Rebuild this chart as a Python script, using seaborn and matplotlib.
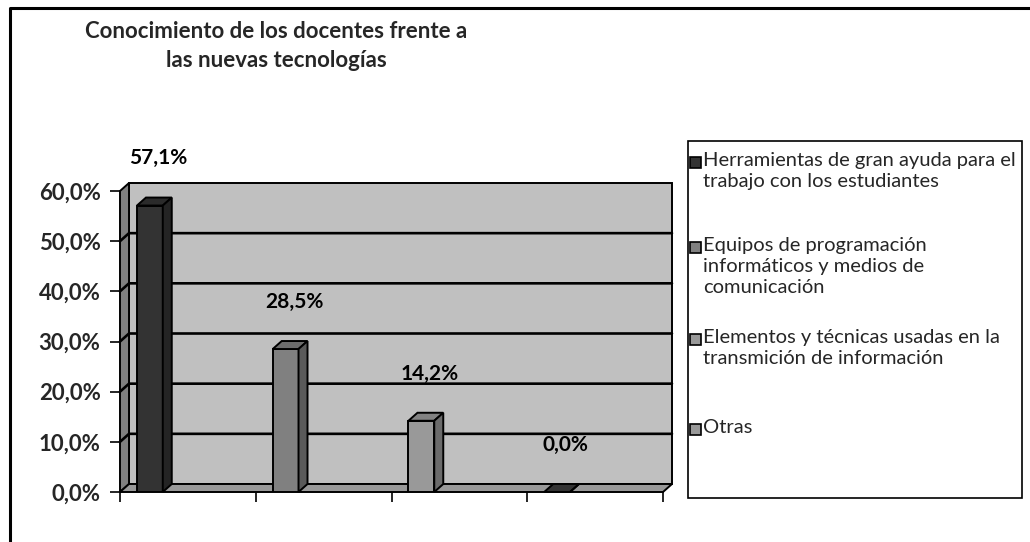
import matplotlib
matplotlib.use("Agg")
import matplotlib.pyplot as plt
from matplotlib.patches import Polygon, Rectangle
from matplotlib.lines import Line2D
from matplotlib.colors import to_rgb
import numpy as np
import pandas as pd
import seaborn as sns

# data
categories = [
    "Herramientas de gran ayuda para el\ntrabajo con los estudiantes",
    "Equipos de programación\ninformáticos y medios de\ncomunicación",
    "Elementos y técnicas usadas en la\ntransmición de información",
    "Otras",
]
values = [0.571, 0.285, 0.142, 0.0]
value_labels = ["57,1%", "28,5%", "14,2%", "0,0%"]
y_ticks = [0.0, 0.1, 0.2, 0.3, 0.4, 0.5, 0.6]
y_tick_labels = ["0,0%", "10,0%", "20,0%", "30,0%", "40,0%", "50,0%", "60,0%"]
title = "Conocimiento de los docentes frente a\nlas nuevas tecnologías"

bar_colors = ["#333333", "#808080", "#999999", "#999999"]

W, H = 1030, 542


def shade(c, f):
    r, g, b = to_rgb(c)
    return (r * f, g * f, b * f)


def fig_box(left, top, right, bottom):
    # pixel box -> figure fraction rect
    return [left / W, 1 - bottom / H, (right - left) / W, (bottom - top) / H]


sns.set_theme(style="white")
plt.rcParams["font.family"] = ["Lato", "DejaVu Sans"]

fig = plt.figure(figsize=(W / 100, H / 100), dpi=100)
ax = fig.add_axes(fig_box(120, 191, 663, 492))

df = pd.DataFrame({"categoria": categories, "valor": values})
sns.barplot(data=df, x="categoria", y="valor", hue="categoria",
            palette=bar_colors, saturation=1, width=0.19,
            edgecolor="black", linewidth=1.4, legend=False, ax=ax, zorder=3)
bars = list(ax.patches)

n = len(categories)
x0, x1 = -0.5, n - 0.5
ax.set_xlim(x0, x1)
ax.set_ylim(y_ticks[0], y_ticks[-1])
ax.set_facecolor("none")
for s in ax.spines.values():
    s.set_visible(False)

# depth of the fake 3d effect, in data units
dep_x = 9 / (ax.bbox.width / (x1 - x0))
dep_y = 8 / (ax.bbox.height / (y_ticks[-1] - y_ticks[0]))
kw = dict(clip_on=False, edgecolor="black", linewidth=1.4)

# back wall, side wall and floor
ax.add_patch(Rectangle((x0 + dep_x, dep_y), x1 - x0, y_ticks[-1],
                       facecolor="#c0c0c0", zorder=0, **kw))
ax.add_patch(Polygon([(x0, 0), (x0, y_ticks[-1]), (x0 + dep_x, y_ticks[-1] + dep_y),
                      (x0 + dep_x, dep_y)], facecolor="#808080", zorder=0.5, **kw))
ax.add_patch(Polygon([(x0, 0), (x1, 0), (x1 + dep_x, dep_y), (x0 + dep_x, dep_y)],
                     facecolor="#999999", zorder=1, **kw))
for yv in y_ticks[1:-1]:
    ax.plot([x0, x0 + dep_x, x1 + dep_x], [yv, yv + dep_y, yv + dep_y],
            color="black", lw=1.9, zorder=0.8, clip_on=False)

# shift bars to the left of each slot and give them depth
for p, lab in zip(bars, value_labels):
    p.set_x(p.get_x() - 0.28)
    bx, bw, h = p.get_x(), p.get_width(), p.get_height()
    fc = p.get_facecolor()
    top_fc = shade(fc, 0.85) if h > 0 else "#333333"
    ax.add_patch(Polygon([(bx, h), (bx + bw, h), (bx + bw + dep_x, h + dep_y),
                          (bx + dep_x, h + dep_y)], facecolor=top_fc, zorder=3, **kw))
    ax.add_patch(Polygon([(bx + bw, 0), (bx + bw, h), (bx + bw + dep_x, h + dep_y),
                          (bx + bw + dep_x, dep_y)], facecolor=shade(fc, 0.7), zorder=3, **kw))
    ax.annotate(lab, (bx + bw / 2, h), xytext=(6, 34), textcoords="offset points",
                ha="center", va="center", fontsize=15, fontweight="bold", color="black")

ax.set_yticks(y_ticks, y_tick_labels, fontsize=16, fontweight="bold")
ax.set_xticks(np.arange(n + 1) - 0.5, [""] * (n + 1))
ax.tick_params(axis="both", length=7, width=1.2, color="black", direction="out",
               left=True, bottom=True, pad=7)
ax.set_xlabel("")
ax.set_ylabel("")

# title
fig.text(276 / W, 1 - 46 / H, title, ha="center", va="center", fontsize=16,
         fontweight="bold", linespacing=1.5)

# legend box drawn by hand so swatches sit on the first line of each entry
fig.add_artist(Rectangle((688 / W, 1 - 498 / H), (1022 - 688) / W, (498 - 141) / H,
                         transform=fig.transFigure, fill=False, edgecolor="black", lw=1.2))
entry_y = [162, 247, 339, 429]
for lab, col, yy in zip(categories, bar_colors, entry_y):
    fig.add_artist(Rectangle((690 / W, 1 - (yy + 5.5) / H), 11 / W, 11 / H,
                             transform=fig.transFigure, facecolor=col,
                             edgecolor="black", lw=1.2))
    fig.text(703 / W, 1 - (yy - 10) / H, lab, ha="left", va="top", fontsize=14.5,
             linespacing=1.3)

# outer chart border (left and top visible)
fig.add_artist(Line2D([10 / W, 10 / W, 1], [0, 1 - 8 / H, 1 - 8 / H],
                      transform=fig.transFigure, color="black", lw=2.2))

fig.savefig("out.png", dpi=100, facecolor="white")
